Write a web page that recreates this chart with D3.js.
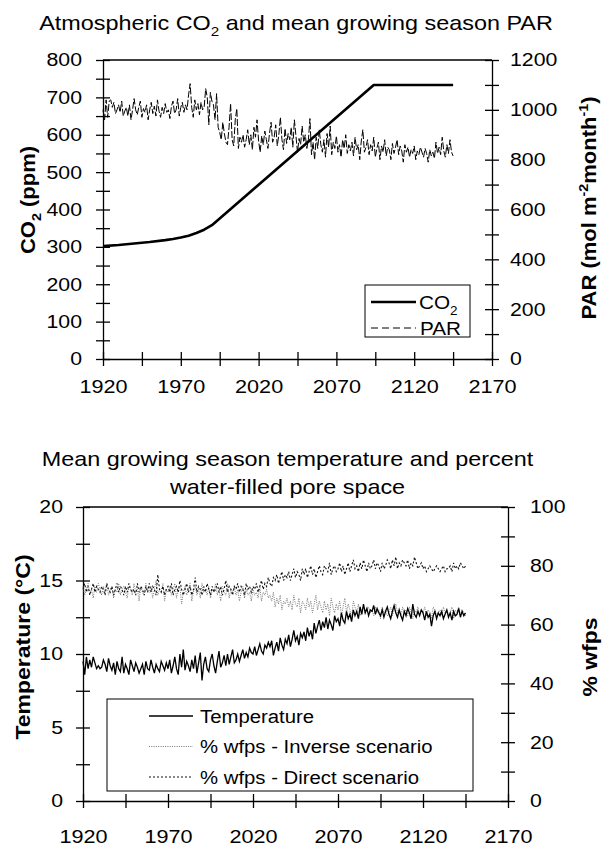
<!DOCTYPE html>
<html>
<head>
<meta charset="utf-8">
<script src="https://cdn.jsdelivr.net/npm/d3@7"></script>
<style>
  html, body { margin: 0; padding: 0; background: #fff; }
  svg { display: block; font-family: "Liberation Sans", Arial, sans-serif; }
</style>
</head>
<body>
<svg id="chart" width="608" height="849"></svg>
<script>
// ---- data ----
const FIRST_YEAR = 1920;   // yearly series start here
const xTicksMajor = [1920, 1970, 2020, 2070, 2120, 2170];

const co2Years  = [1920, 1930, 1940, 1950, 1960, 1965, 1970, 1975, 1980, 1985, 1990, 2094, 2145];
const co2Values = [302, 305, 309, 313, 318, 321, 325, 330, 337, 346, 358, 733, 733];

// PAR (mol m-2 month-1), 1920..2145
const parValues = [
  1000, 960, 1040, 970, 1035, 1040, 1010, 1030, 985, 1000,
  1020, 990, 1035, 975, 995, 1010, 975, 1020, 960, 1000,
  1045, 1000, 980, 1010, 1035, 970, 1005, 990, 1020, 960,
  1000, 1030, 985, 1015, 975, 1040, 995, 970, 1010, 985,
  1025, 990, 1000, 965, 1015, 1035, 985, 1000, 1045, 975,
  1010, 1030, 990, 1020, 1000, 1060, 1105, 1010, 970, 1040,
  1000, 1025, 980, 1030, 1000, 1010, 1085, 1050, 940, 1070,
  1035, 1020, 960, 1065, 930, 910, 880, 950, 905, 870,
  860, 930, 1025, 880, 855, 960, 1005, 845, 890, 870,
  900, 850, 880, 920, 860, 900, 840, 930, 890, 960,
  875, 830, 895, 860, 915, 880, 845, 905, 950, 870,
  890, 940, 855, 900, 970, 880, 840, 925, 865, 905,
  880, 930, 850, 960, 895, 830, 885, 860, 935, 870,
  900, 845, 880, 965, 820, 870, 800, 890, 845, 920,
  860, 830, 880, 810, 905, 850, 935, 820, 870, 845,
  895, 830, 860, 810, 880, 845, 900, 825, 860, 835,
  870, 815, 890, 840, 860, 800, 875, 920, 830, 850,
  880, 820, 860, 835, 890, 810, 845, 870, 800, 855,
  830, 880, 815, 850, 840, 800, 865, 825, 850, 880,
  820, 855, 835, 790, 860, 830, 850, 810, 840, 825,
  855, 800, 835, 820, 850, 830, 810, 845, 825, 790,
  840, 815, 830, 805, 870, 825, 850, 820, 890, 835,
  810, 860, 825, 880, 830, 815
];

// Temperature (C), 1920..2145
const tempValues = [
  9.5, 8.6, 9.8, 9.0, 9.6, 9.1, 9.8, 9.4, 9.0, 9.2,
  9.0, 9.1, 9.6, 9.3, 8.8, 9.7, 9.2, 8.9, 9.4, 8.6,
  9.5, 9.0, 8.8, 9.8, 8.7, 9.3, 9.0, 8.6, 9.6, 9.2,
  8.8, 9.4, 9.1, 8.7, 9.0, 9.3, 8.6, 9.5, 9.0, 8.9,
  9.6, 9.1, 8.7, 9.3, 9.0, 8.8, 9.5, 9.2, 8.9, 9.4,
  9.0, 9.6, 8.7, 9.2, 9.8, 9.0, 8.6, 10.0, 9.1, 10.3,
  8.9, 9.5, 9.2, 8.8, 9.6, 9.0, 9.9, 8.7, 9.4, 10.1,
  8.2, 9.3, 9.8, 9.0, 8.8, 9.6, 10.0, 9.2, 8.7, 9.5,
  10.2, 9.1, 9.4, 9.9, 9.2, 10.0, 9.3, 9.8, 10.3, 9.4,
  9.6, 10.0, 9.5, 9.9, 10.3, 9.7, 10.1, 9.8, 10.4, 10.1,
  10.0, 10.5, 9.9, 10.3, 10.7, 10.2, 10.0, 10.6, 10.4, 10.8,
  10.5, 10.9, 9.9, 10.4, 10.8, 10.2, 11.1, 10.6, 10.3, 11.0,
  10.7, 11.3, 10.5, 11.0, 11.6, 10.9, 11.2, 10.6, 11.4, 11.1,
  11.5, 10.9, 11.8, 11.2, 11.6, 11.0, 12.1, 11.4, 11.9, 12.3,
  11.6, 12.2, 11.8, 12.5, 11.7, 12.3, 12.0, 11.6, 12.6, 12.2,
  12.4, 11.9, 12.8, 12.3, 12.1, 12.9, 12.4, 12.7, 12.2, 13.0,
  12.6, 12.9, 12.4, 13.2, 12.7, 13.4, 12.8, 13.1, 12.6, 13.0,
  12.9, 13.3, 12.7, 13.1, 12.8, 12.6, 13.0, 12.5, 12.9, 13.2,
  12.7, 12.4, 12.9, 13.3, 12.8, 12.5, 13.0, 12.6, 12.3, 12.9,
  12.6, 13.1, 12.8, 12.4, 13.4, 12.7, 12.5, 12.9, 12.6, 13.0,
  12.8, 12.3, 12.9, 12.5, 12.7, 11.9, 12.6, 12.9, 12.4, 12.8,
  12.6, 12.9, 12.4, 12.7, 13.0, 12.5, 12.8, 12.3, 12.9, 12.6,
  12.7, 13.1, 12.5, 12.9, 12.6, 12.8
];

// % wfps, inverse scenario, 1920..2145
const wfpsInverse = [
  73, 70, 72, 74, 71, 72, 69, 73, 71, 74,
  72, 70, 73, 71, 74, 70, 72, 73, 69, 72,
  71, 74, 70, 72, 73, 71, 69, 73, 72, 70,
  74, 71, 72, 68, 73, 71, 70, 74, 72, 71,
  73, 69, 72, 75, 70, 72, 71, 74, 68, 72,
  71, 73, 70, 72, 74, 69, 72, 73, 67, 71,
  73, 70, 72, 74, 68, 71, 73, 70, 72, 69,
  74, 71, 72, 70, 73, 69, 72, 71, 74, 70,
  72, 68, 73, 71, 70, 74, 69, 72, 71, 73,
  70, 72, 68, 71, 73, 69, 72, 70, 71, 68,
  72, 70, 71, 69, 73, 68, 71, 70, 72, 69,
  70, 68, 71, 66, 69, 67, 70, 65, 68, 67,
  69, 66, 68, 65, 70, 67, 66, 69, 64, 68,
  67, 65, 69, 66, 68, 64, 67, 70, 65, 68,
  66, 64, 68, 65, 67, 63, 69, 66, 64, 67,
  65, 68, 63, 66, 69, 64, 67, 65, 62, 68,
  66, 64, 67, 63, 65, 66, 64, 65, 66, 64,
  65, 63, 66, 64, 65, 62, 66, 64, 65, 63,
  64, 66, 63, 65, 67, 64, 65, 63, 66, 64,
  65, 63, 66, 64, 62, 65, 64, 66, 63, 65,
  64, 66, 63, 65, 64, 62, 66, 65, 63, 64,
  65, 63, 66, 64, 65, 63, 64, 66, 62, 65,
  64, 66, 63, 65, 64, 63
];

// % wfps, direct scenario, 1920..2145
const wfpsDirect = [
  72, 74, 71, 73, 70, 72, 74, 71, 73, 72,
  71, 73, 72, 70, 74, 72, 71, 73, 70, 72,
  74, 71, 73, 72, 70, 73, 71, 74, 72, 71,
  72, 70, 74, 71, 73, 72, 70, 73, 71, 74,
  71, 73, 72, 70, 77, 72, 71, 73, 70, 72,
  73, 71, 74, 70, 72, 73, 71, 75, 72, 70,
  72, 74, 71, 73, 70, 72, 76, 71, 73, 72,
  70, 73, 71, 74, 72, 70, 73, 71, 72, 74,
  71, 73, 70, 72, 75, 71, 73, 72, 70, 73,
  72, 74, 71, 73, 72, 70, 74, 72, 73, 71,
  73, 72, 74, 71, 73, 75, 72, 74, 73, 76,
  74, 73, 76, 75, 77, 74, 76, 78, 75, 77,
  76, 78, 75, 77, 79, 76, 78, 77, 75, 79,
  77, 79, 76, 78, 80, 77, 79, 76, 78, 80,
  78, 77, 80, 79, 78, 81, 77, 79, 80, 78,
  79, 81, 78, 80, 77, 79, 81, 78, 80, 82,
  79, 80, 78, 81, 79, 82, 80, 78, 81, 79,
  80, 82, 79, 81, 80, 78, 81, 79, 80, 82,
  81, 79, 82, 80, 83, 79, 81, 80, 82, 81,
  80, 82, 79, 81, 80, 83, 81, 79, 80, 81,
  79, 80, 78, 79, 80, 79, 78, 79, 80, 79,
  78, 79, 80, 78, 79, 79, 80, 78, 81, 79,
  80, 79, 81, 80, 79, 80
];

// ---- helpers ----
const svg = d3.select('#chart');
const TICK = 7;
const AXIS_W = 1.3;

// text with sub/superscript parts, stretched horizontally like the scan
function addText(parent, x, y, parts, opts = {}) {
  const size = opts.size || 18.5;
  const t = parent.append('text')
    .attr('transform', `translate(${x},${y}) rotate(${opts.rotate || 0}) scale(${opts.sx || 1.15},1)`)
    .attr('text-anchor', opts.anchor || 'middle')
    .attr('font-size', size)
    .attr('font-weight', opts.weight || 'normal')
    .attr('fill', '#000');
  let off = 0;
  parts.forEach(p => {
    const o = typeof p === 'string' ? { text: p } : p;
    const target = o.sub ? size * 0.32 : o.sup ? -size * 0.42 : 0;
    const ts = t.append('tspan').text(o.text).attr('dy', target - off);
    if (o.sub || o.sup) ts.attr('font-size', size * 0.65);
    off = target;
  });
  return t;
}

function styleAxis(g, vertical, sx) {
  g.attr('font-family', null).attr('font-size', 18.5);
  g.select('.domain').attr('stroke-width', AXIS_W);
  g.selectAll('.tick line')
    .attr('stroke-width', AXIS_W)
    .attr(vertical ? 'x1' : 'y1', -TICK)
    .attr(vertical ? 'x2' : 'y2', TICK);
  g.selectAll('.tick text').each(function () {
    const t = d3.select(this);
    const x = +t.attr('x') || 0, y = +t.attr('y') || 0;
    t.attr('x', null).attr('y', null)
      .attr('transform', `translate(${x},${y}) scale(${sx},1)`);
  });
}

function range(a, b, step) { return d3.range(a, b + step / 2, step); }

function drawFrame(g, x, yL, yR, o) {
  const [x0, x1] = x.range();
  const [yb, yt] = yL.range();
  g.append('line').attr('x1', x0).attr('x2', x1).attr('y1', yt).attr('y2', yt)
    .attr('stroke', '#000').attr('stroke-width', AXIS_W);

  const ax = g.append('g').attr('transform', `translate(0,${yb})`)
    .call(d3.axisBottom(x).tickValues(range(1920, 2170, 25))
      .tickFormat(d => xTicksMajor.includes(d) ? d : '')
      .tickSizeInner(TICK).tickSizeOuter(0).tickPadding(o.xPad));
  styleAxis(ax, false, 1.17);

  const al = g.append('g').attr('transform', `translate(${x0},0)`)
    .call(d3.axisLeft(yL).tickValues(o.leftTicks)
      .tickFormat(d => o.leftLabels.includes(d) ? d : '')
      .tickSizeInner(TICK).tickSizeOuter(0).tickPadding(o.lPad));
  styleAxis(al, true, 1.15);

  const ar = g.append('g').attr('transform', `translate(${x1},0)`)
    .call(d3.axisRight(yR).tickValues(o.rightTicks)
      .tickFormat(d => o.rightLabels.includes(d) ? d : '')
      .tickSizeInner(TICK).tickSizeOuter(0).tickPadding(o.rPad));
  styleAxis(ar, true, 1.15);
}

const yearly = vals => vals.map((v, i) => ({ year: FIRST_YEAR + i, v }));

// ---- top panel: CO2 and PAR ----
const topPanel = svg.append('g');
const xTop = d3.scaleLinear().domain([1920, 2170]).range([103, 492]);
const yCO2 = d3.scaleLinear().domain([0, 800]).range([359, 60]);
const yPAR = d3.scaleLinear().domain([0, 1200]).range([359, 60]);

drawFrame(topPanel, xTop, yCO2, yPAR, {
  xPad: 14, lPad: 14, rPad: 11,
  leftTicks: range(0, 800, 50), leftLabels: range(0, 800, 100),
  rightTicks: range(0, 1200, 100), rightLabels: range(0, 1200, 200)
});

topPanel.append('path')
  .datum(yearly(parValues))
  .attr('fill', 'none').attr('stroke', '#000').attr('stroke-width', 1)
  .attr('stroke-dasharray', '7,2')
  .attr('d', d3.line().x(d => xTop(d.year)).y(d => yPAR(d.v)));

topPanel.append('path')
  .datum(co2Years.map((yr, i) => ({ year: yr, v: co2Values[i] })))
  .attr('fill', 'none').attr('stroke', '#000').attr('stroke-width', 2.6)
  .attr('stroke-linejoin', 'round')
  .attr('d', d3.line().x(d => xTop(d.year)).y(d => yCO2(d.v)));

addText(topPanel, 296, 30, ['Atmospheric CO', { text: '2', sub: true }, ' and mean growing season PAR'],
  { size: 20, sx: 1.17 });
addText(topPanel, 35, 200, ['CO', { text: '2', sub: true }, ' (ppm)'],
  { size: 20, weight: 'bold', rotate: -90, sx: 1.1 });
addText(topPanel, 596, 208, ['PAR (mol m', { text: '-2', sup: true }, 'month', { text: '-1', sup: true }, ')'],
  { size: 20, weight: 'bold', rotate: -90, sx: 1.1 });

// legend
const lgTop = topPanel.append('g');
lgTop.append('rect').attr('x', 365).attr('y', 285).attr('width', 105).attr('height', 52)
  .attr('fill', '#fff').attr('stroke', '#000').attr('stroke-width', 1);
lgTop.append('line').attr('x1', 371).attr('x2', 416).attr('y1', 302).attr('y2', 302)
  .attr('stroke', '#000').attr('stroke-width', 2.6);
lgTop.append('line').attr('x1', 371).attr('x2', 416).attr('y1', 328).attr('y2', 328)
  .attr('stroke', '#000').attr('stroke-width', 1).attr('stroke-dasharray', '7,4');
addText(lgTop, 419, 309, ['CO', { text: '2', sub: true }], { anchor: 'start', sx: 1.12 });
addText(lgTop, 420, 335, ['PAR'], { anchor: 'start', sx: 1.12 });

// ---- bottom panel: temperature and % wfps ----
const botPanel = svg.append('g');
const xBot = d3.scaleLinear().domain([1920, 2170]).range([83, 508]);
const yTemp = d3.scaleLinear().domain([0, 20]).range([801, 507]);
const yWfps = d3.scaleLinear().domain([0, 100]).range([801, 507]);

drawFrame(botPanel, xBot, yTemp, yWfps, {
  xPad: 22, lPad: 13, rPad: 15,
  leftTicks: range(0, 20, 2.5), leftLabels: range(0, 20, 5),
  rightTicks: range(0, 100, 10), rightLabels: range(0, 100, 20)
});

const series = [
  { vals: wfpsInverse, y: yWfps, stroke: '#777', width: 1, dash: '1,1.3' },
  { vals: wfpsDirect, y: yWfps, stroke: '#111', width: 1.1, dash: '2,2' },
  { vals: tempValues, y: yTemp, stroke: '#000', width: 1.3, dash: null }
];
series.forEach(s => {
  botPanel.append('path')
    .datum(yearly(s.vals))
    .attr('fill', 'none').attr('stroke', s.stroke).attr('stroke-width', s.width)
    .attr('stroke-dasharray', s.dash)
    .attr('d', d3.line().x(d => xBot(d.year)).y(d => s.y(d.v)));
});

addText(botPanel, 287.5, 466, ['Mean growing season temperature and percent'], { size: 20, sx: 1.17 });
addText(botPanel, 287.5, 494, ['water-filled pore space'], { size: 20, sx: 1.17 });
addText(botPanel, 30, 647, ['Temperature (°C)'], { size: 20, weight: 'bold', rotate: -90, sx: 1.15 });
addText(botPanel, 597, 657, ['% wfps'], { size: 20, weight: 'bold', rotate: -90, sx: 1.15 });

const lgBot = botPanel.append('g');
lgBot.append('rect').attr('x', 107).attr('y', 699).attr('width', 366).attr('height', 92)
  .attr('fill', '#fff').attr('stroke', '#000').attr('stroke-width', 1);
const legendItems = ['Temperature', '% wfps - Inverse scenario', '% wfps - Direct scenario'];
const legendSeries = [series[2], series[0], series[1]];
legendSeries.forEach((s, i) => {
  const ly = 716 + i * 30.5;
  lgBot.append('line').attr('x1', 149).attr('x2', 193).attr('y1', ly).attr('y2', ly)
    .attr('stroke', s.stroke).attr('stroke-width', s.width).attr('stroke-dasharray', s.dash);
  addText(lgBot, 200, ly + 6.5, [legendItems[i]], { anchor: 'start', size: 18, sx: 1.13 });
});
</script>
</body>
</html>
